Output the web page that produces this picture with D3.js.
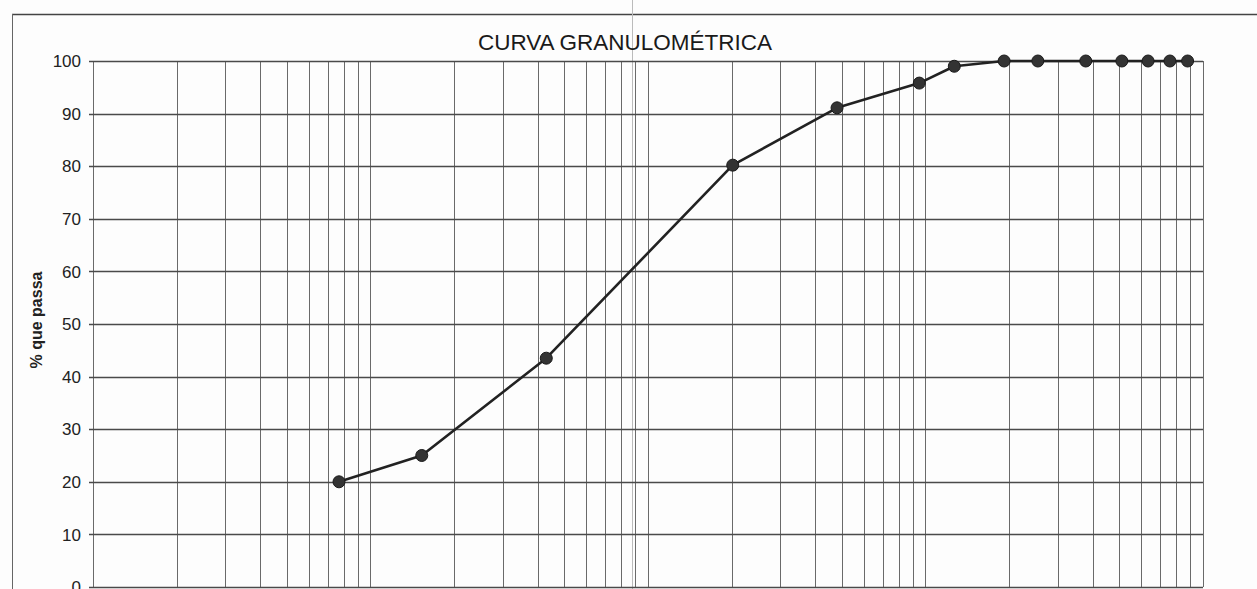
<!DOCTYPE html>
<html>
<head>
<meta charset="utf-8">
<script src="https://cdn.jsdelivr.net/npm/d3@7"></script>
<style>
  html, body { margin: 0; padding: 0; background: #ffffff; }
  svg { display: block; }
</style>
</head>
<body>
<script>
// Data (diameter in mm, % passing)
const diameters = [0.077, 0.153, 0.43, 2.02, 4.8, 9.5, 12.7, 19.2, 25.4, 37.8, 51, 63.4, 76, 88];
const passing   = [20, 25, 43.5, 80.2, 91.1, 95.8, 99.0, 100, 100, 100, 100, 100, 100, 100];
const yTicks    = [0, 10, 20, 30, 40, 50, 60, 70, 80, 90, 100];
const xDomain   = [0.01, 100];
const title     = "CURVA GRANULOMÉTRICA";
const yLabel    = "% que passa";

const W = 1257, H = 589;
const svg = d3.select("body").append("svg").attr("width", W).attr("height", H);

svg.append("rect").attr("width", W).attr("height", H).attr("fill", "#fdfdfd");

const x = d3.scaleLog().domain(xDomain).range([93, 1203]);
const y = d3.scaleLinear().domain([0, 100]).range([587, 61]);

// outer frame of the sheet
svg.append("line").attr("x1", 12).attr("x2", W).attr("y1", 14.5).attr("y2", 14.5)
  .attr("stroke", "#444").attr("stroke-width", 1.5);
svg.append("line").attr("x1", 12.5).attr("x2", 12.5).attr("y1", 14).attr("y2", H)
  .attr("stroke", "#666").attr("stroke-width", 1);

// crease of the paper
svg.append("line").attr("x1", 632.5).attr("x2", 632.5).attr("y1", 0).attr("y2", H)
  .attr("stroke", "#bbb").attr("stroke-width", 1);

// vertical grid (log)
const vt = x.ticks();
svg.append("g").selectAll("line").data(vt).join("line")
  .attr("x1", d => Math.round(x(d)) + 0.5).attr("x2", d => Math.round(x(d)) + 0.5)
  .attr("y1", y(100)).attr("y2", y(0))
  .attr("stroke", "#6a6a6a").attr("stroke-width", 1);

// horizontal grid
svg.append("g").selectAll("line").data(yTicks).join("line")
  .attr("x1", 89).attr("x2", x(xDomain[1]))
  .attr("y1", d => Math.round(y(d)) + 0.5).attr("y2", d => Math.round(y(d)) + 0.5)
  .attr("stroke", "#4a4a4a").attr("stroke-width", 1.4);

// y axis labels
svg.append("g").selectAll("text").data(yTicks).join("text")
  .attr("x", 81).attr("y", d => y(d)).attr("dy", "0.36em")
  .attr("text-anchor", "end")
  .attr("font-family", "Arial, 'Liberation Sans', sans-serif")
  .attr("font-size", 17).attr("fill", "#222")
  .text(d => d);

// y axis title
svg.append("text")
  .attr("transform", "translate(42,320) rotate(-90)")
  .attr("text-anchor", "middle")
  .attr("font-family", "Arial, 'Liberation Sans', sans-serif")
  .attr("font-weight", "bold").attr("font-size", 16).attr("fill", "#222")
  .text(yLabel);

// title
svg.append("text")
  .attr("x", 625).attr("y", 50)
  .attr("text-anchor", "middle")
  .attr("font-family", "Arial, 'Liberation Sans', sans-serif")
  .attr("font-size", 22.5).attr("fill", "#1a1a1a")
  .text(title);

// curve
const pts = diameters.map((d, i) => [d, passing[i]]);
svg.append("path").datum(pts)
  .attr("fill", "none").attr("stroke", "#222").attr("stroke-width", 2.6)
  .attr("stroke-linejoin", "round")
  .attr("d", d3.line().x(d => x(d[0])).y(d => y(d[1])));

svg.append("g").selectAll("circle").data(pts).join("circle")
  .attr("cx", d => x(d[0])).attr("cy", d => y(d[1])).attr("r", 6)
  .attr("fill", "#333").attr("stroke", "#1a1a1a").attr("stroke-width", 1);
</script>
</body>
</html>
